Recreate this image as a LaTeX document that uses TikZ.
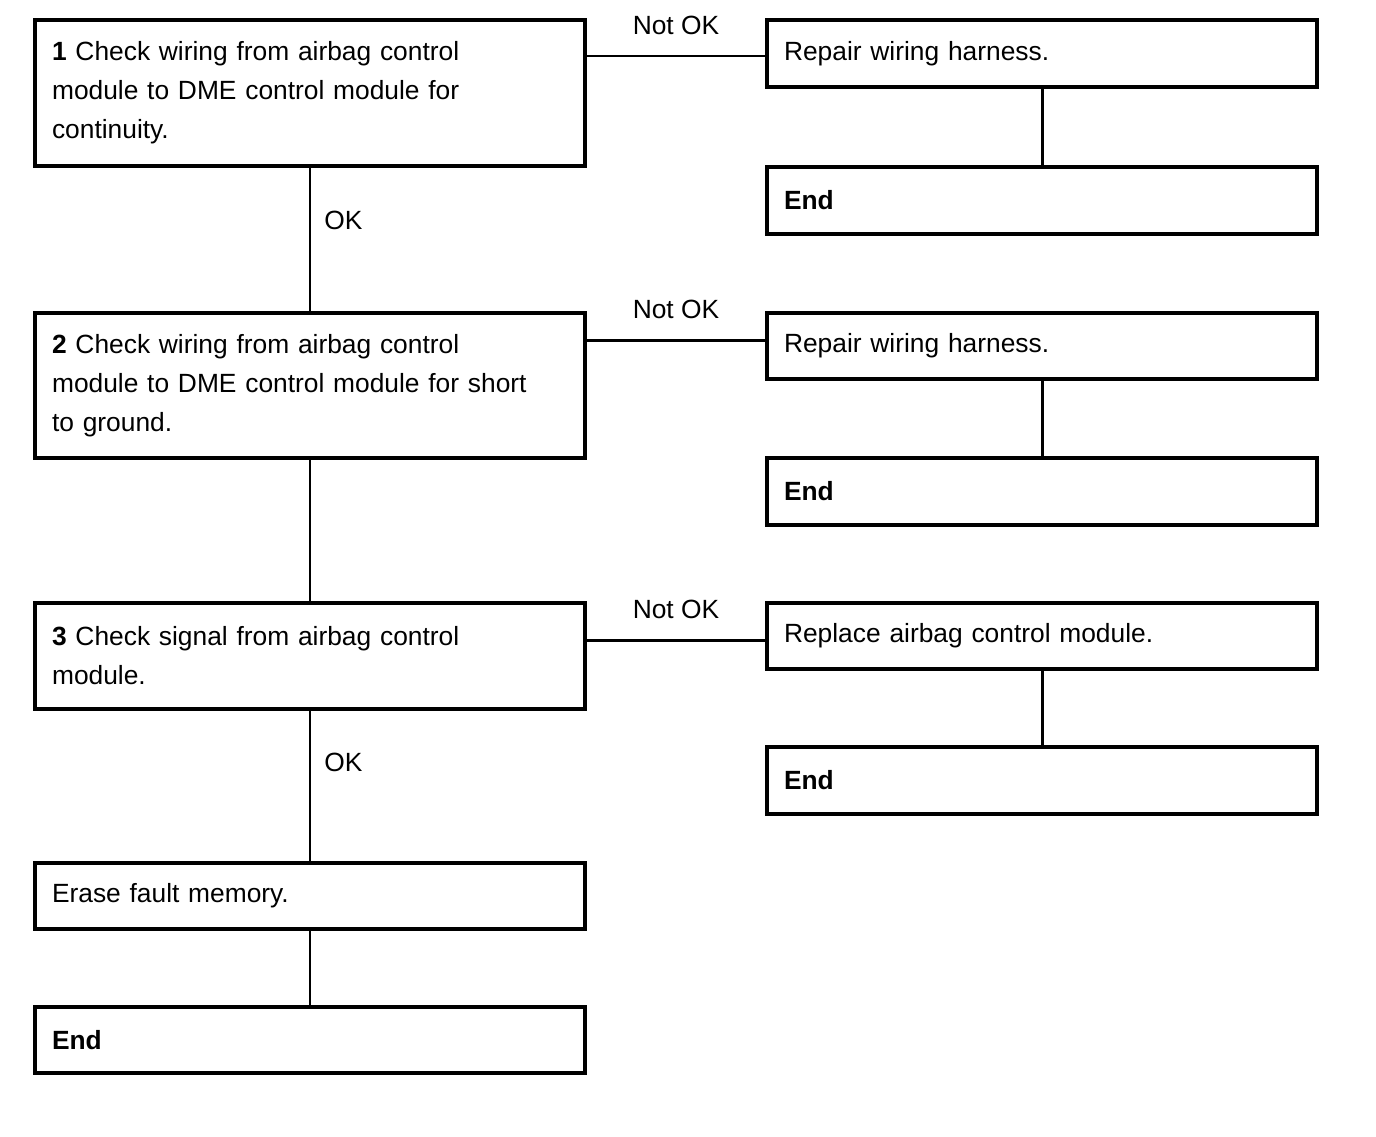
\documentclass[tikz,border=0pt]{standalone}
\usepackage{fontspec}
\setmainfont{Liberation Sans}
\tikzset{
  stepbox/.style={draw, line width=2pt, minimum width=11cm, text width=10.32cm,
    inner xsep=0.34cm, align=left, font=\fontsize{15pt}{22.2pt}\selectfont},
  lbl/.style={font=\fontsize{15pt}{22.2pt}\selectfont},
  link/.style={line width=1.7pt}
}
\begin{document}
\begin{tikzpicture}[x=0.02cm, y=-0.02cm]
  \fill[white] (0,0) rectangle (1376,1136);
  \useasboundingbox (0,0) rectangle (1376,1136);
  % left column
  \node[stepbox, minimum height=2.92cm] (q1) at (310,93)
    {\textbf{1} Check wiring from airbag control\\module to DME control module for\\continuity.};
  \node[stepbox, minimum height=2.9cm] (q2) at (310,385.5)
    {\textbf{2} Check wiring from airbag control\\module to DME control module for short\\to ground.};
  \node[stepbox, minimum height=2.12cm] (q3) at (310,656)
    {\textbf{3} Check signal from airbag control\\module.};
  \node[stepbox, minimum height=1.32cm] (erase) at (310,896) {Erase fault memory.};
  \node[stepbox, minimum height=1.32cm] (end0) at (310,1040) {\textbf{End}};
  % right column
  \node[stepbox, minimum height=1.34cm] (r1) at (1042,53.5) {Repair wiring harness.};
  \node[stepbox, minimum height=1.34cm] (end1) at (1042,200.5) {\textbf{End}};
  \node[stepbox, minimum height=1.32cm] (r2) at (1042,346) {Repair wiring harness.};
  \node[stepbox, minimum height=1.34cm] (end2) at (1042,491.5) {\textbf{End}};
  \node[stepbox, minimum height=1.32cm] (r3) at (1042,636) {Replace airbag control module.};
  \node[stepbox, minimum height=1.34cm] (end3) at (1042,780.5) {\textbf{End}};
  \begin{scope}[link]
    \draw (q1) to node[lbl, pos=0.37, right, xshift=0.14cm] {OK} (q2);
    \draw (q2) to (q3);
    \draw (q3) to node[lbl, pos=0.34, right, xshift=0.14cm] {OK} (erase);
    \draw (erase) to (end0);
    \draw ([yshift=-0.05cm]r1.west -| q1.east) to node[lbl, midway, above=0.27cm] {Not OK} ([yshift=-0.05cm]r1.west);
    \draw ([yshift=0.12cm]r2.west -| q2.east) to node[lbl, midway, above=0.27cm] {Not OK} ([yshift=0.12cm]r2.west);
    \draw ([yshift=-0.08cm]r3.west -| q3.east) to node[lbl, midway, above=0.27cm] {Not OK} ([yshift=-0.08cm]r3.west);
    \draw (r1) to (end1);
    \draw (r2) to (end2);
    \draw (r3) to (end3);
  \end{scope}
\end{tikzpicture}
\end{document}
